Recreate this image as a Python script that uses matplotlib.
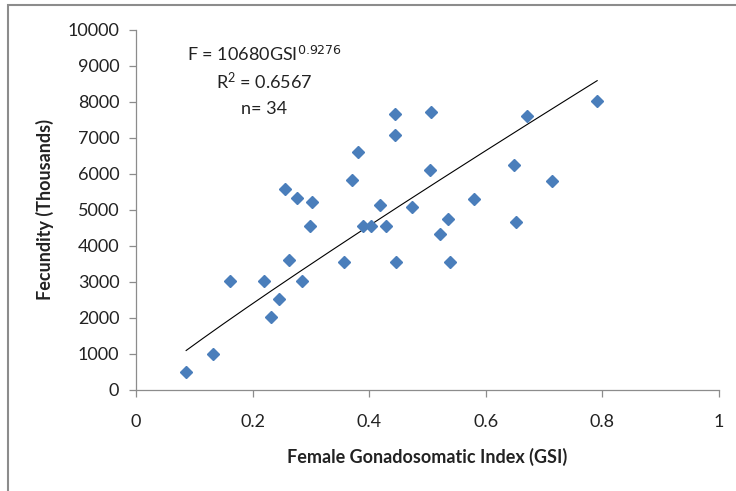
import numpy as np
import matplotlib
matplotlib.use("Agg")
import matplotlib.pyplot as plt
from matplotlib.patches import Rectangle

plt.rcParams['font.family'] = ['Lato', 'DejaVu Sans']
plt.rcParams['mathtext.default'] = 'regular'

gsi = [0.086, 0.132, 0.161, 0.220, 0.231, 0.246, 0.262, 0.284, 0.299, 0.255,
       0.276, 0.302, 0.356, 0.371, 0.380, 0.390, 0.403, 0.418, 0.428, 0.445,
       0.445, 0.446, 0.474, 0.504, 0.506, 0.521, 0.535, 0.538, 0.579, 0.648,
       0.652, 0.670, 0.714, 0.791]
fecundity = [500, 1000, 3040, 3040, 2040, 2540, 3610, 3040, 4560, 5580,
             5340, 5220, 3560, 5830, 6610, 4560, 4560, 5140, 4560, 7660,
             7090, 3560, 5070, 6110, 7730, 4320, 4740, 3560, 5300, 6250,
             4680, 7620, 5810, 8040]

fit_a = 10680
fit_b = 0.9276
r_squared = 0.6567

x_ticks = [0, 0.2, 0.4, 0.6, 0.8, 1]
x_tick_labels = ['0', '0.2', '0.4', '0.6', '0.8', '1']
y_ticks = list(range(0, 10001, 1000))

fig = plt.figure(figsize=(7.36, 4.91), dpi=100)
ax = fig.add_axes([136 / 736, 1 - 390 / 491, (719 - 136) / 736, (390 - 30) / 491])

ax.plot(gsi, fecundity, linestyle='none', marker='D', ms=6,
        color='#4a7ebb', markeredgecolor='#4a7ebb', zorder=3)

# power-law fit drawn across the observed GSI range
xf = np.linspace(min(gsi), max(gsi), 200)
ax.plot(xf, fit_a * xf ** fit_b, color='black', lw=0.8, zorder=2)

ax.set_xlim(0, 1)
ax.set_ylim(0, 10000)
ax.set_xticks(x_ticks)
ax.set_xticklabels(x_tick_labels)
ax.set_yticks(y_ticks)
ax.set_yticklabels([str(v) for v in y_ticks])

for s in ['top', 'right']:
    ax.spines[s].set_visible(False)
for s in ['left', 'bottom']:
    ax.spines[s].set_color('#8c8c8c')
    ax.spines[s].set_linewidth(0.9)
ax.tick_params(axis='both', direction='out', length=5, width=0.9,
               color='#8c8c8c', labelsize=13, labelcolor='#222222')
ax.tick_params(axis='x', pad=12)
ax.tick_params(axis='y', pad=7)

ax.set_xlabel('Female Gonadosomatic Index (GSI)', fontsize=13, fontweight='bold',
              color='#222222', labelpad=13)
ax.set_ylabel('Fecundity (Thousands)', fontsize=13, fontweight='bold',
              color='#222222', labelpad=10)

ax.text(0.22, 9330, r'F = %dGSI$^{\mathsf{%s}}$' % (fit_a, fit_b), fontsize=13,
        ha='center', va='center', color='#222222')
ax.text(0.22, 8580, r'R$^{2}$ = %s' % r_squared, fontsize=13,
        ha='center', va='center', color='#222222')
ax.text(0.22, 7810, 'n= %d' % len(gsi), fontsize=13,
        ha='center', va='center', color='#222222')

fig.patches.append(Rectangle((8 / 736, -0.05), 1.1, 1 - 5 / 491 + 0.05,
                             transform=fig.transFigure, fill=False,
                             edgecolor='#8c8c8c', linewidth=1.5, clip_on=False))

fig.savefig('out.png', dpi=100)
